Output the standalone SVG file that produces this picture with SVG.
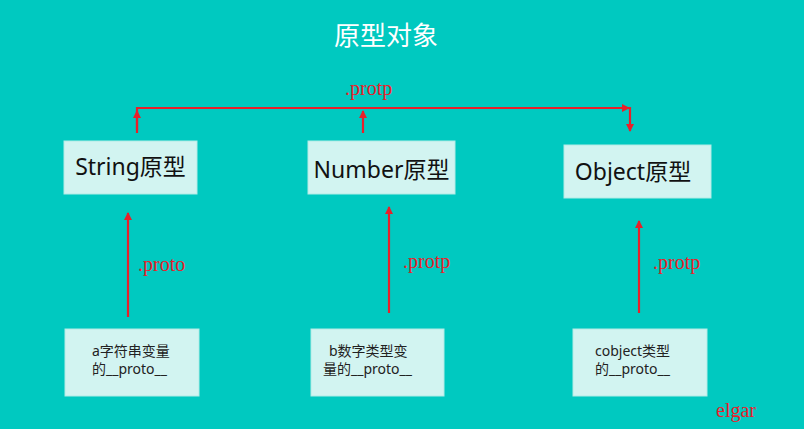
<svg xmlns="http://www.w3.org/2000/svg" width="804" height="429" viewBox="0 0 804 429">
<defs>
<marker id="ah" markerWidth="8" markerHeight="8" refX="7" refY="4" orient="auto" markerUnits="userSpaceOnUse"><path d="M0,0 L8,4 L0,8 Z" fill="#E8202A"/></marker>
<style>
.box{fill:#D2F4F1;stroke:#B2ECE6;stroke-width:1}
.t{font-family:"Noto Sans","Noto Sans CJK SC",sans-serif;fill:#111}
.big{font-size:23px}
.small{font-size:14px;fill:#222}
.lbl{font-family:"Liberation Serif","Noto Serif CJK SC",serif;font-size:20px;fill:#E8202A}
.ln{stroke:#E8202A;stroke-width:2.2;fill:none}
</style>
</defs>
<rect width="804" height="429" fill="#00C9C0"/>
<text x="386" y="45" text-anchor="middle" style="font-family:'Noto Sans CJK SC','Noto Sans',sans-serif;font-size:26px;fill:#fff">原型对象</text>
<g id="connectors">
<polyline class="ln" points="137,133 137,108 629,108" marker-end="url(#ah)"/>
<line class="ln" x1="137" y1="130" x2="137" y2="111" marker-end="url(#ah)"/>
<line class="ln" x1="363" y1="133" x2="363" y2="111" marker-end="url(#ah)"/>
<line class="ln" x1="630" y1="107" x2="630" y2="131" marker-end="url(#ah)"/>
<line class="ln" x1="128" y1="317" x2="128" y2="213" marker-end="url(#ah)"/>
<line class="ln" x1="389" y1="313" x2="389" y2="207" marker-end="url(#ah)"/>
<line class="ln" x1="639" y1="313" x2="639" y2="221" marker-end="url(#ah)"/>
<text class="lbl" x="345" y="95">.protp</text>
<text class="lbl" x="138" y="271">.proto</text>
<text class="lbl" x="403" y="268">.protp</text>
<text class="lbl" x="653" y="269">.protp</text>
</g>
<g id="string-proto"><rect class="box" x="64" y="141" width="133" height="53"/><text class="t big" x="130.5" y="175" text-anchor="middle">String原型</text></g>
<g id="number-proto"><rect class="box" x="308" y="141" width="147" height="53"/><text class="t big" x="381.5" y="178" text-anchor="middle">Number原型</text></g>
<g id="object-proto"><rect class="box" x="564" y="145" width="147" height="53"/><text class="t big" x="633" y="180" text-anchor="middle">Object原型</text></g>
<g id="a-var"><rect class="box" x="65" y="329" width="134" height="67"/><text class="t small" x="92" y="356">a字符串变量</text><text class="t small" x="92" y="374">的__proto__</text></g>
<g id="b-var"><rect class="box" x="311" y="329" width="133" height="67"/><text class="t small" x="329" y="356">b数字类型变</text><text class="t small" x="323" y="374">量的__proto__</text></g>
<g id="c-var"><rect class="box" x="573" y="329" width="134" height="67"/><text class="t small" x="595" y="356">cobject类型</text><text class="t small" x="595" y="374">的__proto__</text></g>
<text class="lbl" x="716" y="417">elgar</text>
</svg>
